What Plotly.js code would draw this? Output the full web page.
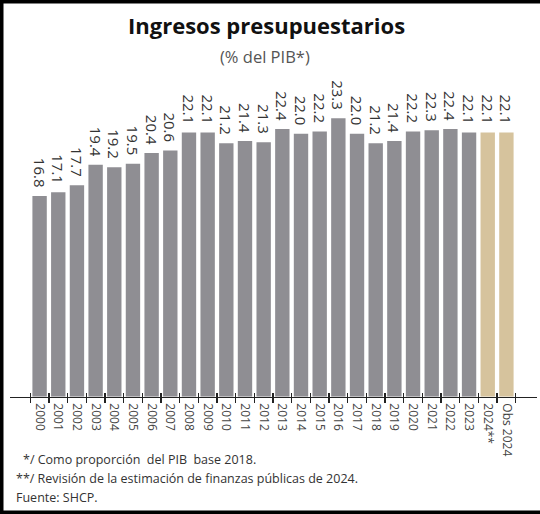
<!DOCTYPE html>
<html>
<head>
<meta charset="utf-8">
<script src="https://cdn.plot.ly/plotly-3.0.1.min.js"></script>
<style>
html,body{margin:0;padding:0;background:#fff;}
#chart{width:540px;height:514px;}
</style>
</head>
<body>
<div id="chart"></div>
<script>
const categories = ["2000","2001","2002","2003","2004","2005","2006","2007","2008","2009","2010","2011","2012","2013","2014","2015","2016","2017","2018","2019","2020","2021","2022","2023","2024**","Obs 2024"];
const values = [16.8,17.1,17.7,19.4,19.2,19.5,20.4,20.6,22.1,22.1,21.2,21.4,21.3,22.4,22.0,22.2,23.3,22.0,21.2,21.4,22.2,22.3,22.4,22.1,22.1,22.1];
const seriesKind = ["h","h","h","h","h","h","h","h","h","h","h","h","h","h","h","h","h","h","h","h","h","h","h","h","e","e"];
const titleText = "Ingresos presupuestarios";
const subtitleText = "(% del PIB*)";
const notes = ["*/ Como proporción  del PIB  base 2018.", "**/ Revisión de la estimación de finanzas públicas de 2024.", "Fuente: SHCP."];

const W = 540, H = 514;
const colors = seriesKind.map(k => k === "h" ? "#8f8e93" : "#d6c39d");
const xd = [9.5 / W, 536.5 / W];
const yd = [(H - 396.7) / H, 1 - 80 / H];
const yMax = 26.5;

// trailing no-break space gives a little more room between label and bar
const bars = {
  type: "bar", x: categories, y: values,
  marker: {color: colors, line: {width: 0}},
  text: values.map(v => v.toFixed(1) + "\u00a0\u200a"), textposition: "outside", textangle: 90,
  constraintext: "none",
  textfont: {family: "Open Sans", size: 15, color: "#333"},
  cliponaxis: false, hoverinfo: "skip", showlegend: false
};
const tickHelper = {
  type: "scatter", x: categories, y: values.map(() => 0), xaxis: "x2", yaxis: "y",
  mode: "markers", marker: {opacity: 0}, hoverinfo: "skip", showlegend: false
};

const annotations = [
  {text: "<b>" + titleText + "</b>", xref: "paper", yref: "paper", x: 266 / W, y: 1 - 25 / H, xanchor: "center", yanchor: "middle", showarrow: false, font: {family: "Open Sans", size: 22, color: "#111"}},
  {text: subtitleText, xref: "paper", yref: "paper", x: 265 / W, y: 1 - 56 / H, xanchor: "center", yanchor: "middle", showarrow: false, font: {family: "Open Sans", size: 16.5, color: "#555"}},
  {text: notes[0], xref: "paper", yref: "paper", x: 21 / W, y: 1 - 459 / H, xanchor: "left", yanchor: "middle", showarrow: false, font: {family: "Open Sans", size: 12.5, color: "#333"}},
  {text: notes[1], xref: "paper", yref: "paper", x: 14 / W, y: 1 - 478 / H, xanchor: "left", yanchor: "middle", showarrow: false, font: {family: "Open Sans", size: 12.5, color: "#333"}},
  {text: notes[2], xref: "paper", yref: "paper", x: 14 / W, y: 1 - 497 / H, xanchor: "left", yanchor: "middle", showarrow: false, font: {family: "Open Sans", size: 12.5, color: "#333"}}
];

const layout = {
  width: W, height: H,
  margin: {l: 0, r: 0, t: 0, b: 0, pad: 0},
  paper_bgcolor: "#fff", plot_bgcolor: "#fff",
  bargap: 0.23,
  xaxis: {domain: xd, type: "category", showline: true, linecolor: "#222", linewidth: 1.2,
    ticks: "outside", ticklen: 5, tickwidth: 1.2, tickcolor: "#222", tickson: "boundaries",
    ticklabelstandoff: 3,
    tickangle: 90, tickfont: {family: "Open Sans", size: 12, color: "#444"}, showgrid: false, zeroline: false, fixedrange: true},
  xaxis2: {domain: xd, type: "category", overlaying: "x", matches: "x", anchor: "y", side: "bottom",
    showline: false, ticks: "inside", ticklen: 4, tickwidth: 1.2, tickcolor: "#222", tickson: "boundaries",
    showticklabels: false, showgrid: false, zeroline: false},
  yaxis: {domain: yd, range: [0, yMax], visible: false, showgrid: false, zeroline: false, fixedrange: true},
  annotations: annotations,
  shapes: [
    {type: "rect", xref: "paper", yref: "paper", x0: 0, x1: 1.05, y0: 0, y1: 1, line: {color: "#000", width: 7}, fillcolor: "rgba(0,0,0,0)"}
  ]
};

Plotly.newPlot("chart", [bars, tickHelper], layout, {staticPlot: true, displayModeBar: false});
</script>
</body>
</html>
